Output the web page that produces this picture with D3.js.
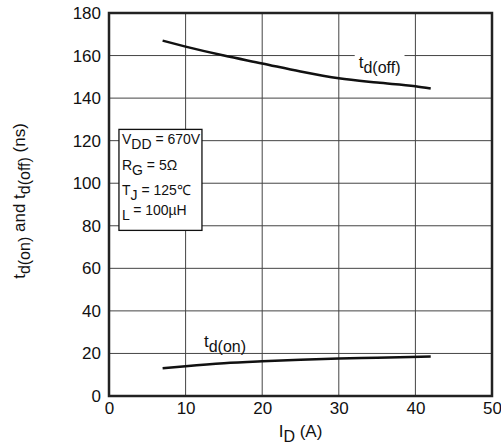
<!DOCTYPE html>
<html>
<head>
<meta charset="utf-8">
<script src="https://cdn.jsdelivr.net/npm/d3@7"></script>
<style>
  body { margin: 0; background: #fff; }
  text { font-family: "Liberation Sans", Arial, sans-serif; fill: #111; }
</style>
</head>
<body>
<div class="chart"></div>
<script>
// data
var idOff = [7, 10, 15, 20, 25, 30, 35, 40, 42]
var tdOff = [167, 164.2, 160, 156.3, 152.5, 149.3, 147.3, 145.6, 144.5]
var idOn = [7, 10, 15, 20, 25, 30, 35, 42]
var tdOn = [13, 14, 15.4, 16.3, 17, 17.6, 18, 18.6]
var xTicks = [0, 10, 20, 30, 40, 50]
var yTicks = [0, 20, 40, 60, 80, 100, 120, 140, 160, 180]
var conditions = [
  ["V", "DD", " = 670V"],
  ["R", "G", " = 5Ω"],
  ["T", "J", " = 125℃"],
  ["L", "", " = 100µH"]
]

var margin = {top: 13, right: 9, bottom: 50, left: 109},
    width = 501 - margin.left - margin.right,
    height = 446 - margin.top - margin.bottom

var x = d3.scaleLinear().domain([0, 50]).range([0, width])
var y = d3.scaleLinear().domain([0, 180]).range([height, 0])

var svg = d3.select(".chart").append("svg")
    .attr("width", 501)
    .attr("height", 446)
  .append("g")
    .attr("transform", "translate(" + margin.left + "," + margin.top + ")")

// grid
svg.append("g").selectAll("line").data(xTicks.slice(1, -1)).enter().append("line")
    .attr("x1", d => x(d)).attr("x2", d => x(d))
    .attr("y1", 0).attr("y2", height)
    .attr("stroke", "#444").attr("stroke-width", 1)
svg.append("g").selectAll("line").data(yTicks.slice(1, -1)).enter().append("line")
    .attr("y1", d => y(d)).attr("y2", d => y(d))
    .attr("x1", 0).attr("x2", width)
    .attr("stroke", "#444").attr("stroke-width", 1)

// axes
var xAxis = d3.axisBottom(x).tickValues(xTicks).tickSize(0).tickPadding(6)
var yAxis = d3.axisLeft(y).tickValues(yTicks).tickSize(0).tickPadding(8)

svg.append("g").attr("transform", "translate(0," + height + ")").call(xAxis)
  .call(g => g.select(".domain").remove())
  .selectAll("text").style("font-size", "17px").attr("fill", "#111")
svg.append("g").call(yAxis)
  .call(g => g.select(".domain").remove())
  .selectAll("text").style("font-size", "17px").attr("fill", "#111")

// frame
svg.append("rect")
    .attr("x", 0).attr("y", 0).attr("width", width).attr("height", height)
    .attr("fill", "none").attr("stroke", "#222").attr("stroke-width", 2.5)

// curves
var line = d3.line().curve(d3.curveMonotoneX).x(d => x(d[0])).y(d => y(d[1]))

svg.append("path")
    .datum(idOff.map((d, i) => [d, tdOff[i]]))
    .attr("d", line)
    .attr("fill", "none").attr("stroke", "#111").attr("stroke-width", 2.5)
svg.append("path")
    .datum(idOn.map((d, i) => [d, tdOn[i]]))
    .attr("d", line)
    .attr("fill", "none").attr("stroke", "#111").attr("stroke-width", 2.5)

// curve labels with white backing
function curveLabel(px, py, sub) {
  var g = svg.append("g").attr("transform", "translate(" + px + "," + py + ")")
  var bg = g.append("rect").attr("fill", "#fff")
  var t = g.append("text").style("font-size", "17px")
  t.append("tspan").text("t")
  t.append("tspan").attr("dy", 5).style("font-size", "16px").text(sub)
  var b = t.node().getBBox()
  bg.attr("x", b.x - 4).attr("y", b.y + 1).attr("width", b.width + 8).attr("height", b.height - 4)
}
curveLabel(x(32.6), y(154.3), "d(off)")
curveLabel(x(12.4), y(23.2), "d(on)")

// conditions box
var box = svg.append("g").attr("transform", "translate(" + (x(1.3)) + "," + (y(125.3)) + ")")
box.append("rect")
    .attr("width", 83).attr("height", 101)
    .attr("fill", "#fff").attr("stroke", "#111").attr("stroke-width", 1.3)
conditions.forEach((c, i) => {
  var t = box.append("text").attr("x", 3).attr("y", 15 + i * 25.3).style("font-size", "14px")
  t.append("tspan").text(c[0])
  t.append("tspan").attr("dy", 5).text(c[1])
  t.append("tspan").attr("dy", -5).text(c[2])
})

// axis titles
var xt = svg.append("text")
    .attr("x", x(25)).attr("y", height + 41)
    .attr("text-anchor", "middle").style("font-size", "17px")
xt.append("tspan").text("I")
xt.append("tspan").attr("dy", 5).style("font-size", "16px").text("D")
xt.append("tspan").attr("dy", -5).text(" (A)")

var yt = svg.append("text")
    .attr("transform", "translate(" + (-84) + "," + (188) + ") rotate(-90)")
    .attr("text-anchor", "middle").style("font-size", "17px")
yt.append("tspan").text("t")
yt.append("tspan").attr("dy", 5).style("font-size", "16px").text("d(on)")
yt.append("tspan").attr("dy", -5).text(" and t")
yt.append("tspan").attr("dy", 5).style("font-size", "16px").text("d(off)")
yt.append("tspan").attr("dy", -5).text(" (ns)")
</script>
</body>
</html>
